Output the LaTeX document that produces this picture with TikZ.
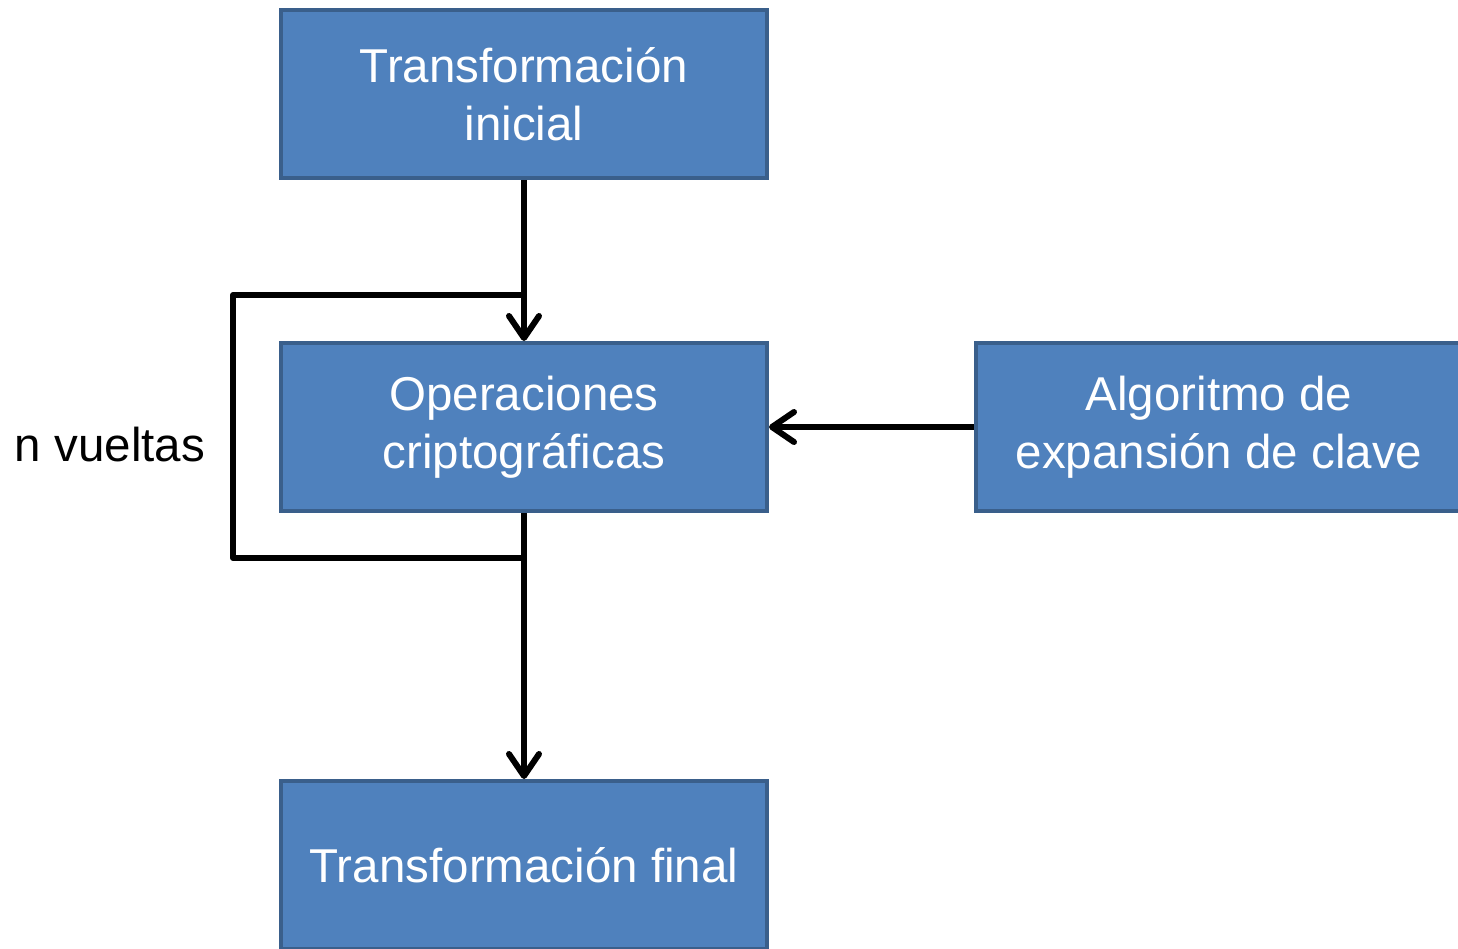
\documentclass[tikz,border=0pt]{standalone}
\usepackage{fontspec}
\setmainfont{Liberation Sans}
\usetikzlibrary{arrows.meta}
\definecolor{boxfill}{HTML}{4F81BD}
\definecolor{boxedge}{HTML}{3A5F8B}
\tikzset{
  stepbox/.style={draw=boxedge, fill=boxfill, line width=4pt,
    minimum width=486pt, minimum height=168pt, inner sep=0pt,
    align=center, text=white, font=\fontsize{47.5}{58}\selectfont},
  link/.style={draw=black, line width=6pt},
  flow/.style={link, -{Straight Barb[length=22pt, width=30pt, line width=6pt, round]}},
  label/.style={font=\fontsize{47.5}{58}\selectfont, inner sep=0pt}
}
\begin{document}
\begin{tikzpicture}[x=1pt, y=-1pt]
  \useasboundingbox (0,0) rectangle (1458,948);
  \clip (0,0) rectangle (1458,948);

  % process boxes
  \node[stepbox] (ini) at (524,94) {Transformación\\inicial};
  \node[stepbox] (ops) at (524,427) {Operaciones\\criptográficas};
  \node[stepbox] (key) at (1219,427) {Algoritmo de\\expansión de clave};
  \node[stepbox] (fin) at (524,865) {Transformación final};

  % round loop
  \coordinate (loopin) at (524,295);
  \coordinate (loopout) at (524,558);
  \coordinate (loopleft) at (233,558);
  \draw[link, line join=round] (loopout) -- (loopleft) |- (loopin);
  \node[label] (rounds) at (110,445) {n vueltas};

  % data flow
  \draw[flow] (ini.south) -- (ops.north);
  \draw[flow] (ops.south) -- (fin.north);
  \draw[flow] (key.west) -- (ops.east);
\end{tikzpicture}
\end{document}
